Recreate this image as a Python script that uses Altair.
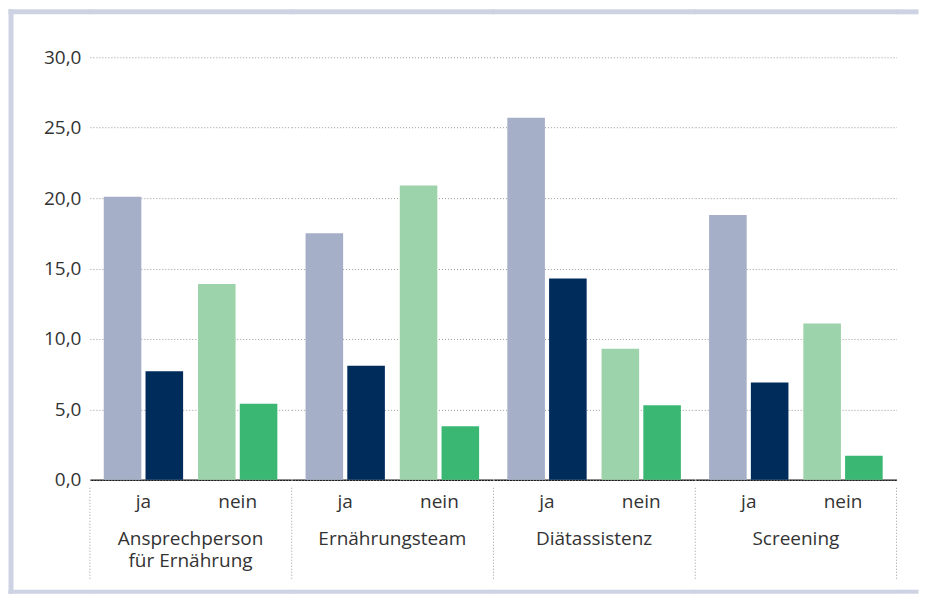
import altair as alt
import pandas as pd

FONT = "Open Sans"
TEXT = "#333333"
FRAME = "#cdd3e2"

groups = ["Ansprechperson\nfür Ernährung", "Ernährungsteam", "Diätassistenz", "Screening"]
answers = ["ja", "nein"]
series = ["hell", "dunkel"]

ja_hell = [20.1, 17.5, 25.7, 18.8]
ja_dunkel = [7.7, 8.1, 14.3, 6.9]
nein_hell = [13.9, 20.9, 9.3, 11.1]
nein_dunkel = [5.4, 3.8, 5.3, 1.7]

color_keys = ["ja-hell", "ja-dunkel", "nein-hell", "nein-dunkel"]
color_range = ["#a6afc8", "#002c5c", "#9cd3aa", "#3ab873"]
y_ticks = [0, 5, 10, 15, 20, 25, 30]

rows = []
for i, g in enumerate(groups):
    for ans, hell, dunkel in [("ja", ja_hell, ja_dunkel), ("nein", nein_hell, nein_dunkel)]:
        rows.append(dict(group=g, gi=i, answer=ans, series="hell", key=f"{ans}-hell", value=hell[i]))
        rows.append(dict(group=g, gi=i, answer=ans, series="dunkel", key=f"{ans}-dunkel", value=dunkel[i]))
df = pd.DataFrame(rows)

W = 201.5
H = 423
TOP = -48
BOT = H + 114
LEFT = -81.5
RIGHT = W + 22

base = alt.Chart()

bars = base.mark_bar().encode(
    x=alt.X(
        "answer:N", sort=answers,
        scale=alt.Scale(paddingInner=0.158, paddingOuter=0.147),
        axis=alt.Axis(title=None, labelAngle=0, ticks=False, grid=False,
                      domainColor="#1a1a1a", domainWidth=1.5,
                      labelPadding=13, labelFontSize=19, labelColor=TEXT, labelFont=FONT),
    ),
    xOffset=alt.XOffset("series:N", sort=series,
                        scale=alt.Scale(paddingInner=0.1, paddingOuter=0)),
    y=alt.Y(
        "value:Q",
        scale=alt.Scale(domain=[0, 30], nice=False),
        axis=alt.Axis(title=None, values=y_ticks, ticks=False, domain=False,
                      labelExpr="replace(format(datum.value, '.1f'), '.', ',')",
                      labelPadding=9, labelFontSize=19, labelColor=TEXT, labelFont=FONT,
                      gridColor="#9a9a9a", gridDash=[1, 2], gridWidth=1),
    ),
    color=alt.Color("key:N", scale=alt.Scale(domain=color_keys, range=color_range), legend=None),
)

one = base.transform_filter((alt.datum.answer == "ja") & (alt.datum.series == "hell"))
first = one.transform_filter(alt.datum.gi == 0)
last = one.transform_filter(alt.datum.gi == len(groups) - 1)

sep_left = one.mark_rule(color="#9a9a9a", strokeDash=[1, 2], strokeWidth=1).encode(
    x=alt.value(0), y=alt.value(H + 8), y2=alt.value(H + 100))
sep_right = last.mark_rule(color="#9a9a9a", strokeDash=[1, 2], strokeWidth=1).encode(
    x=alt.value(W), y=alt.value(H + 8), y2=alt.value(H + 100))

labels = one.mark_text(lineBreak="\n", fontSize=19, font=FONT, color=TEXT,
                       baseline="alphabetic", align="center", lineHeight=22).encode(
    x=alt.value(W / 2), y=alt.value(H + 65), text="group:N")

frame_top = one.mark_rect(color=FRAME).encode(
    x=alt.value(-1), x2=alt.value(W + 1), y=alt.value(TOP), y2=alt.value(TOP + 5))
frame_bottom = one.mark_rect(color=FRAME).encode(
    x=alt.value(-1), x2=alt.value(W + 1), y=alt.value(BOT - 4), y2=alt.value(BOT))
frame_left = first.mark_rect(color=FRAME).encode(
    x=alt.value(LEFT), x2=alt.value(LEFT + 5), y=alt.value(TOP), y2=alt.value(BOT))
frame_left_top = first.mark_rect(color=FRAME).encode(
    x=alt.value(LEFT), x2=alt.value(0), y=alt.value(TOP), y2=alt.value(TOP + 5))
frame_left_bottom = first.mark_rect(color=FRAME).encode(
    x=alt.value(LEFT), x2=alt.value(0), y=alt.value(BOT - 4), y2=alt.value(BOT))
frame_right_top = last.mark_rect(color=FRAME).encode(
    x=alt.value(W), x2=alt.value(RIGHT), y=alt.value(TOP), y2=alt.value(TOP + 5))
frame_right_bottom = last.mark_rect(color=FRAME).encode(
    x=alt.value(W), x2=alt.value(RIGHT), y=alt.value(BOT - 4), y2=alt.value(BOT))

layered = alt.layer(
    frame_top, frame_bottom, frame_left, frame_left_top, frame_left_bottom,
    frame_right_top, frame_right_bottom,
    bars, sep_left, sep_right, labels,
).properties(width=W, height=H, view=alt.ViewBackground(stroke="transparent"))

chart = layered.facet(
    column=alt.Column("group:N", sort=groups, title=None,
                      header=alt.Header(labels=False, title=None)),
    data=df,
    spacing=0,
    bounds="flush",
).properties(padding=0, background="white").configure_view(
    stroke="transparent", strokeWidth=0
).configure_axisX(grid=False).configure(font=FONT)

chart.save("out.html", embed_options={"renderer": "svg", "actions": False})
